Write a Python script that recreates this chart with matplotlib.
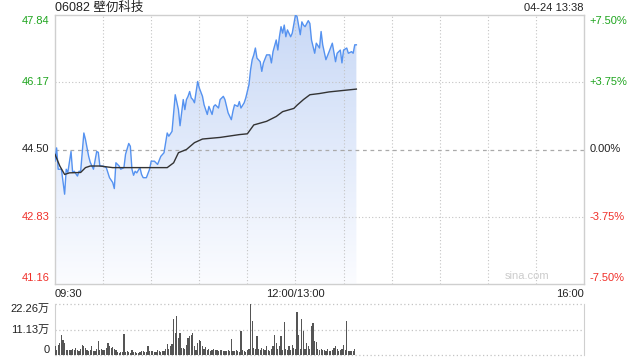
import numpy as np
import matplotlib
matplotlib.use("Agg")
import matplotlib.pyplot as plt
from matplotlib.patches import Polygon
from matplotlib.colors import LinearSegmentedColormap

plt.rcParams['font.family'] = ['Liberation Sans', 'Noto Sans CJK SC', 'DejaVu Sans']

title = "06082 壁仞科技"
stamp = "04-24 13:38"
prev_close = 44.50
y_ticks = [47.84, 46.17, 44.50, 42.83, 41.16]
pct_labels = ["+7.50%", "+3.75%", "0.00%", "-3.75%", "-7.50%"]
x_labels = ["09:30", "12:00/13:00", "16:00"]
vol_labels = ["22.26万", "11.13万", "0"]

# minute index since 09:30 (lunch break collapsed), price
price_min = [0, 1, 2, 4, 6, 7, 8, 10, 11, 12, 14, 15, 16, 18, 19, 21, 22, 24, 26, 27,
             28, 30, 32, 34, 36, 37, 38, 39, 40, 41, 43, 44, 46, 47, 48, 49, 50, 51, 53, 54,
             55, 57, 59, 60, 62, 64, 66, 68, 70, 71, 73, 74, 75, 77, 78, 80, 81, 82, 83, 84,
             85, 86, 87, 89, 90, 92, 93, 95, 96, 98, 99, 100, 102, 103, 105, 106, 108, 110, 111, 112,
             114, 115, 116, 118, 119, 121, 122, 123, 124, 125, 126, 128, 129, 130, 132, 134, 135, 136, 138, 139,
             140, 141, 142, 143, 144, 145, 147, 148, 150, 151, 153, 154, 155, 156, 158, 159, 160, 162, 163, 165,
             166, 167, 169, 171, 173, 175, 176, 178, 179, 180, 182, 183, 185, 186, 187, 188]
price = [44.21, 44.54, 44.01, 44.01, 43.39, 44.01, 43.93, 44.45, 43.93, 43.96, 43.84, 43.96, 43.96, 44.91, 44.75, 44.33, 44.18, 44.01, 44.45, 44.43,
         44.09, 44.09, 44.05, 43.80, 43.68, 43.53, 44.17, 44.13, 44.09, 44.01, 44.05, 44.38, 44.65, 44.58, 44.01, 43.86, 43.96, 43.92, 44.05, 43.88,
         43.80, 43.80, 44.01, 44.21, 44.21, 44.13, 44.33, 44.42, 44.91, 44.83, 44.95, 45.41, 45.86, 45.49, 45.09, 45.74, 45.49, 45.74, 45.82, 45.94,
         45.78, 45.74, 45.66, 46.19, 46.03, 45.82, 45.61, 45.37, 45.57, 45.37, 45.57, 45.61, 45.53, 45.74, 45.82, 45.74, 45.41, 45.24, 45.45, 45.61,
         45.57, 45.69, 45.53, 45.66, 45.78, 46.11, 46.48, 46.73, 46.85, 47.02, 46.77, 46.68, 46.44, 46.65, 46.85, 46.85, 46.65, 46.93, 47.22, 46.97,
         47.30, 47.55, 47.39, 47.59, 47.30, 47.47, 47.30, 47.39, 47.84, 47.80, 47.35, 47.67, 47.59, 47.55, 47.70, 47.63, 47.22, 46.89, 47.14, 47.02,
         47.43, 47.10, 46.73, 46.93, 47.14, 46.68, 46.89, 46.97, 46.65, 46.97, 47.02, 46.89, 46.93, 46.89, 47.10, 47.10]

avg_min = [0, 3, 6, 9, 16, 19, 22, 28, 36, 45, 57, 70, 74, 77, 82, 87, 92, 103, 115, 120,
           124, 132, 138, 142, 149, 151, 155, 159, 165, 171, 188]
avg_price = [44.38, 44.09, 43.88, 43.92, 43.93, 44.05, 44.09, 44.09, 44.05, 44.05, 44.05, 44.05, 44.17, 44.42, 44.50, 44.67, 44.76, 44.80, 44.87, 44.89,
             45.11, 45.20, 45.32, 45.44, 45.52, 45.60, 45.74, 45.86, 45.89, 45.93, 46.00]

# volume per minute, in 万
volume = [3.8, 2.3, 4.5, 5.2, 8.8, 6.4, 5.2, 2.3, 2.0, 2.3, 2.3, 2.6, 2.3, 3.0, 2.3, 1.8,
          2.7, 4.5, 3.8, 3.0, 2.3, 1.6, 2.0, 3.8, 1.6, 1.6, 2.6, 5.9, 2.3, 2.6, 2.3, 2.0,
          3.0, 5.2, 4.0, 3.0, 3.3, 2.6, 2.3, 1.2, 0.9, 1.4, 1.2, 9.1, 1.4, 1.7, 1.4, 1.0,
          2.3, 1.2, 1.2, 0.9, 1.0, 1.2, 1.6, 1.9, 1.2, 1.4, 4.0, 1.6, 1.9, 1.6, 1.2, 1.5,
          2.3, 1.6, 1.2, 1.9, 1.6, 2.6, 4.8, 2.6, 3.8, 4.8, 15.6, 9.5, 17.1, 7.4, 9.5, 3.2,
          3.0, 2.6, 4.5, 7.4, 8.1, 8.8, 9.5, 3.8, 2.3, 5.2, 6.6, 5.9, 3.8, 2.6, 3.5, 2.2,
          2.6, 1.6, 2.0, 2.6, 2.0, 2.3, 1.9, 2.3, 2.0, 1.6, 1.9, 1.6, 2.0, 1.6, 6.9, 1.8,
          1.6, 2.3, 1.6, 1.2, 10.5, 2.3, 1.6, 1.2, 2.3, 2.6, 22.26,
          14.9, 3.0, 2.6, 8.1, 2.6, 2.3, 3.0, 2.6, 2.3, 3.8, 2.3, 1.6, 2.6, 3.8, 8.8, 5.2,
          2.6, 3.8, 8.4, 2.3, 14.6, 2.6, 2.3, 3.8, 2.4,
          4.5, 3.0, 2.6, 18.6, 8.8, 2.6, 15.8, 10.3, 2.6, 5.2, 3.8, 2.6, 12.7, 13.9, 5.9, 5.6, 2.6, 2.3,
          2.6, 2.0, 2.3, 1.9, 2.6, 1.6, 1.9, 2.3, 3.0, 3.8, 2.6, 1.6, 2.3, 2.6, 4.5, 2.3,
          14.9, 1.9, 1.6, 1.9, 1.6, 2.6]

GREEN = "#1fa51f"
RED = "#f0302a"
GRID = "#c4c4c4"
SPINE = "#cfcfcf"
TXT = "#222222"

fig = plt.figure(figsize=(6.4, 3.6), dpi=100)
ax = fig.add_axes([55/640, 1-284/360, 529/640, 269/360])
axv = fig.add_axes([55/640, 1-355/360, 529/640, 51/360])

ymin, ymax = y_ticks[-1], y_ticks[0]
xmax = 330

# gradient fill under price
cmap = LinearSegmentedColormap.from_list("g", ["#fbfcff", "#c9d9f6"])
grad = np.linspace(0, 1, 256).reshape(-1, 1)
img = ax.imshow(grad, extent=[0, xmax, ymin, ymax], origin="lower", aspect="auto",
                cmap=cmap, zorder=1, interpolation="bilinear")
verts = [(price_min[0], ymin)] + list(zip(price_min, price)) + [(price_min[-1], ymin)]
poly = Polygon(verts, closed=True, fc="none", ec="none")
ax.add_patch(poly)
img.set_clip_path(poly)

ax.plot(price_min, price, color="#5592f0", lw=1.0, zorder=3)
ax.plot(avg_min, avg_price, color="#333333", lw=1.0, zorder=3)

ax.set_xlim(0, xmax)
ax.set_ylim(ymin, ymax)
for xv in range(30, xmax, 30):
    ax.axvline(xv, color=GRID, lw=0.8, ls=(0, (1, 2)), zorder=2)
for yv in y_ticks[1:-1]:
    if yv == prev_close:
        ax.axhline(yv, color="#aaaaaa", lw=0.9, ls=(0, (3, 3)), zorder=2)
    else:
        ax.axhline(yv, color=GRID, lw=0.8, ls=(0, (1, 2)), zorder=2)
for s in ax.spines.values():
    s.set_color(SPINE)
    s.set_linewidth(1.0)
ax.set_xticks([])
ax.set_yticks([])

fs = 8
colors = [GREEN, GREEN, TXT, RED, RED]
for i, (yv, c) in enumerate(zip(y_ticks, colors)):
    va = "top" if i == 0 else ("bottom" if i == len(y_ticks) - 1 else "center")
    off = -1 if i == 0 else (1 if i == len(y_ticks)-1 else 0)
    ax.annotate(f"{yv:.2f}", xy=(0, yv), xycoords=("axes fraction", "data"),
                xytext=(-4, off), textcoords="offset points", ha="right", va=va,
                color=c, fontsize=fs)
    ax.annotate(pct_labels[i], xy=(1, yv), xycoords=("axes fraction", "data"),
                xytext=(4, off), textcoords="offset points", ha="left", va=va,
                color=c, fontsize=fs)

ax.text(0, -0.018, x_labels[0], transform=ax.transAxes, ha="left", va="top", fontsize=fs, color=TXT)
ax.text(150/xmax, -0.018, x_labels[1], transform=ax.transAxes, ha="center", va="top", fontsize=fs, color=TXT)
ax.text(1, -0.018, x_labels[2], transform=ax.transAxes, ha="right", va="top", fontsize=fs, color=TXT)
ax.text(0.935, 0.012, "sina.com", transform=ax.transAxes, ha="right", va="bottom",
        fontsize=8, color="#cccccc")

fig.text(55/640, 1-8/360, title, ha="left", va="center", fontsize=9, color=TXT)
fig.text(584/640, 1-8/360, stamp, ha="right", va="center", fontsize=fs, color=TXT)

# volume panel
vmax = 22.26
axv.bar(np.arange(len(volume)), volume, width=0.75, color="#555555", zorder=3)
axv.set_xlim(0, xmax)
axv.set_ylim(0, vmax)
for yv in [vmax, vmax/2, 0]:
    axv.axhline(yv, color=GRID, lw=0.9, ls=(0, (1, 2)), zorder=2, clip_on=False)
for k in ["top", "bottom"]:
    axv.spines[k].set_visible(False)
for k in ["left", "right"]:
    axv.spines[k].set_color(SPINE)
axv.set_xticks([])
axv.set_yticks([])
for i, (yv, lab) in enumerate(zip([vmax, vmax/2, 0], vol_labels)):
    va = "top" if i == 0 else ("bottom" if i == 2 else "center")
    axv.annotate(lab, xy=(0, yv), xycoords=("axes fraction", "data"),
                 xytext=(-4, 0), textcoords="offset points", ha="right", va=va,
                 color=TXT, fontsize=fs)

fig.savefig("out.png", dpi=100)
